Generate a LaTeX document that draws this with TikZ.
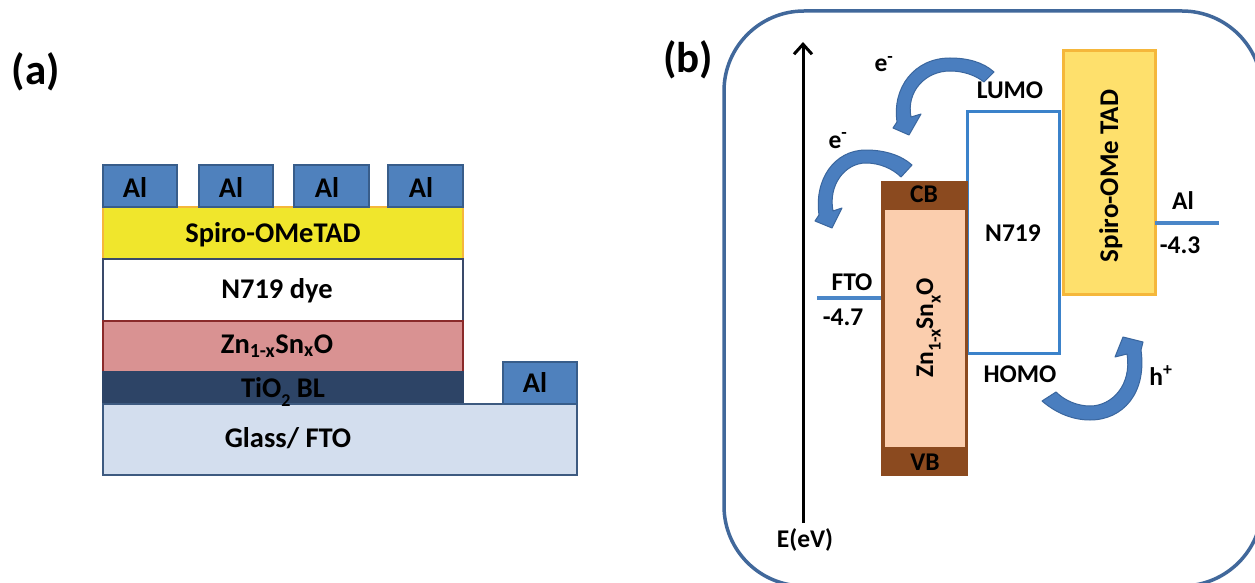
\documentclass[tikz,border=0pt]{standalone}
\usepackage{fontspec}
\setmainfont{Carlito}
\usetikzlibrary{arrows.meta}
\definecolor{alblue}{HTML}{4F81BD}
\definecolor{alborder}{HTML}{385D8A}
\definecolor{spiroY}{HTML}{F0E62C}
\definecolor{spiroO}{HTML}{F5B73B}
\definecolor{dyeB}{HTML}{3A4A6A}
\definecolor{znfill}{HTML}{D99292}
\definecolor{znline}{HTML}{8A2A2A}
\definecolor{tiofill}{HTML}{2D4466}
\definecolor{glassfill}{HTML}{D3DEEE}
\definecolor{glassline}{HTML}{3D5A80}
\definecolor{framec}{HTML}{41689B}
\definecolor{lineblue}{HTML}{4A86C8}
\definecolor{nbox}{HTML}{3B82CA}
\definecolor{spiroR}{HTML}{FEE06C}
\definecolor{bandbrown}{HTML}{8B4A1F}
\definecolor{peach}{HTML}{FBCEAE}
\definecolor{arrowfill}{HTML}{4A7EBF}
\definecolor{arrowline}{HTML}{3A669E}
\newcommand\lsub[1]{\raisebox{-0.3em}{\fontsize{18}{18}\selectfont #1}}
\begin{document}
\begin{tikzpicture}[x=1pt,y=-1pt,
  lbl/.style={font=\fontsize{28.5}{30}\selectfont\bfseries, inner sep=0pt, anchor=base},
  rlbl/.style={font=\fontsize{25.5}{27}\selectfont\bfseries, inner sep=0pt, anchor=base},
  panel/.style={font=\fontsize{43}{45}\selectfont\bfseries, inner sep=0pt},
  albox/.style={fill=alblue, draw=alborder, line width=2pt},
  curv/.style={fill=arrowfill, draw=arrowline, line width=1pt, line join=round},
  eline/.style={draw=lineblue, line width=3.5pt},
  axis/.style={line width=3pt, -{Straight Barb[length=10pt,width=18pt,line width=3pt]}}]
\useasboundingbox (0,0) rectangle (1255,583);
\fill[white] (0,0) rectangle (1255,583);

% ---------- panel (a) ----------
\node[panel] (pa) at (36,72) {(a)};
\path[fill=spiroY, draw=spiroO, line width=2pt] (103,207) rectangle (463,259);
\path[fill=white, draw=dyeB, line width=2pt] (103,259) rectangle (463,321);
\path[fill=znfill, draw=znline, line width=2pt] (103,321) rectangle (463,372);
\path[fill=tiofill, draw=tiofill, line width=2pt] (103,372) rectangle (463,404);
\path[fill=glassfill, draw=glassline, line width=2pt] (103,404) rectangle (577,475);
\path[albox] (103,165) rectangle (177,207);
\path[albox] (199,165) rectangle (273,207);
\path[albox] (294,165) rectangle (369,207);
\path[albox] (388,165) rectangle (463,207);
\path[albox] (503,362) rectangle (577,404);
\node[lbl] (al1) at (135,197) {Al};
\node[lbl] (al2) at (231,197) {Al};
\node[lbl] (al3) at (327,197) {Al};
\node[lbl] (al4) at (421,197) {Al};
\node[lbl] (al5) at (535,392) {Al};
\node[lbl] (spiroL) at (273,242) {Spiro-OMeTAD};
\node[lbl] (dyeL) at (277,298) {N719 dye};
\node[lbl] (znL) at (277,353) {Zn\textsubscript{1-x}Sn\textsubscript{x}O};
\node[lbl] (tioL) at (283,397) {TiO\raisebox{-9pt}{\fontsize{18}{18}\selectfont 2} BL};
\node[lbl] (glassL) at (288,447) {Glass/ FTO};

% ---------- panel (b) ----------
\node[panel] (pb) at (688,60) {(b)};
\begin{scope}
\clip (0,0) rectangle (1255,583);
\draw[framec, line width=3.5pt, rounded corners=80pt] (724,11) rectangle (1262,586);
\end{scope}

\coordinate (axbot) at (803,523);
\coordinate (axtop) at (803,42);
\draw[axis] (axbot) -- (axtop);
\node[rlbl] (eev) at (805,547) {E(eV)};

% Spiro box (right)
\path[fill=spiroR, draw=spiroO, line width=3pt] (1063,51) rectangle (1155,294);
\node[rlbl, rotate=90, font=\fontsize{27}{28}\selectfont\bfseries] (spiroR) at (1118,176) {Spiro-OMe TAD};

% N719 box
\path[draw=nbox, line width=3pt] (967,112) rectangle (1059,353);
\node[rlbl] (n719) at (1013,241) {N719};
\node[rlbl] (lumo) at (1010,99) {LUMO};
\node[rlbl] (homo) at (1020,382) {HOMO};

% ZnSnO band box
\path[fill=bandbrown] (881,181) rectangle (968,476);
\path[fill=peach] (884.5,209.5) rectangle (964.5,446.5);
\node[rlbl] (cb) at (924,202) {CB};
\node[rlbl] (vb) at (925,470) {VB};
\node[rlbl, rotate=90] (znR) at (933,328) {Zn\lsub{1-x}Sn\lsub{x}O};

% FTO and Al levels
\coordinate (ftoa) at (817,298);
\coordinate (ftob) at (881,298);
\draw[eline] (ftoa) -- (ftob);
\node[rlbl] (fto) at (852,290) {FTO};
\node[rlbl] (fto47) at (843,325) {-4.7};
\coordinate (ala) at (1155,223);
\coordinate (alb) at (1219,223);
\draw[eline] (ala) -- (alb);
\node[rlbl] (alR) at (1183,209) {Al};
\node[rlbl] (al43) at (1180,253) {-4.3};

% curved arrows
\path[curv] (994,72) .. controls (983,62) and (967,58) .. (950,58)
  .. controls (914,58) and (892,88) .. (897,122) -- (893,128) -- (909,135) -- (921,114) -- (911,117)
  .. controls (906,92) and (925,71) .. (950,71)
  .. controls (963,71) and (975,75) .. (984,82) -- cycle;
\path[curv] (912,165) .. controls (901,155) and (884,150) .. (866,150)
  .. controls (834,150) and (814,180) .. (819,215) -- (815,221) -- (832,228) -- (842,208) -- (833,211)
  .. controls (828,185) and (845,163) .. (866,163)
  .. controls (880,163) and (893,169) .. (901,177) -- cycle;
\path[curv] (1042,401) .. controls (1057,414) and (1074,420) .. (1090,420)
  .. controls (1123,420) and (1147,393) .. (1141,350) -- (1143,342) -- (1123,337) -- (1115,357) -- (1127,354)
  .. controls (1132,385) and (1112,406) .. (1090,406)
  .. controls (1078,406) and (1065,401) .. (1056,392) -- cycle;
\node[rlbl] (e1) at (884,72) {e\textsuperscript{-}};
\node[rlbl] (e2) at (838,148) {e\textsuperscript{-}};
\node[rlbl] (hp) at (1161,385) {h\textsuperscript{+}};
\end{tikzpicture}
\end{document}
